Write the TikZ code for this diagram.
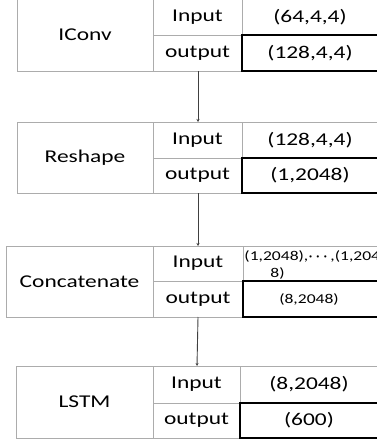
\documentclass[tikz,border=0pt]{standalone}
\usepackage{amsmath}
\usepackage{fontspec}
\setmainfont{Carlito}[FakeStretch=1.3]
\usepackage{tikz}
\usetikzlibrary{arrows.meta}

\tikzset{
  grid/.style={draw=gray!65, line width=0.9pt},
  outbox/.style={draw=black, line width=1.1pt},
  flow/.style={draw=black!75, line width=0.9pt, -{Stealth[length=3pt,width=3pt]}},
  lbl/.style={inner sep=0.75pt, font=\fontsize{18}{20}\selectfont},
  small/.style={inner sep=0.75pt, font=\fontsize{13.5}{15}\selectfont}
}

\begin{document}
\begin{tikzpicture}[x=1pt,y=1pt,yscale=-1,xscale=1]
\useasboundingbox (0,0) rectangle (376,444);
% IConv
\draw[grid] (17,-1) rectangle (153,71);
\draw[grid] (153,-1) -- (395,-1);
\draw[grid] (153,35) -- (242,35);
\draw[grid] (242,-1) -- (242,35);
\draw[grid] (153,71) -- (242,71);
\draw[outbox] (395,35) -- (242,35) -- (242,71) -- (395,71);
\node[lbl] (iconv) at (85,35) {IConv};
\node[lbl] (iconv-in) at (197.5,17) {Input};
\node[lbl] (iconv-out) at (197.5,53) {output};
\node[lbl] (iconv-inv) at (310,17) {(64,4,4)};
\node[lbl] (iconv-outv) at (310,53) {(128,4,4)};
% Reshape
\draw[grid] (17,122) rectangle (153,193);
\draw[grid] (153,122) -- (395,122);
\draw[grid] (153,158) -- (242,158);
\draw[grid] (242,122) -- (242,158);
\draw[grid] (153,193) -- (242,193);
\draw[outbox] (395,158) -- (242,158) -- (242,193) -- (395,193);
\node[lbl] (reshape) at (85,157.5) {Reshape};
\node[lbl] (reshape-in) at (197.5,140) {Input};
\node[lbl] (reshape-out) at (197.5,175.5) {output};
\node[lbl] (reshape-inv) at (310,140) {(128,4,4)};
\node[lbl] (reshape-outv) at (310,175.5) {(1,2048)};
% Concatenate
\draw[grid] (6,246) rectangle (153,317);
\draw[grid] (153,246) -- (395,246);
\draw[grid] (153,281) -- (243,281);
\draw[grid] (243,246) -- (243,281);
\draw[grid] (153,317) -- (243,317);
\draw[outbox] (395,281) -- (243,281) -- (243,317) -- (395,317);
\node[lbl] (concat) at (79.5,281.5) {Concatenate};
\node[lbl] (concat-in) at (198,263.5) {Input};
\node[lbl] (concat-out) at (198,299) {output};
\node[small, anchor=west] (concat-inv) at (243.5,256) {(1,2048),$\boldsymbol{\cdots}$,(1,204};
\node[small] (concat-inv2) at (277.5,273) {8)};
\node[small] (concat-outv) at (309,299) {(8,2048)};
% LSTM
\draw[grid] (16,366) rectangle (153,438);
\draw[grid] (153,366) -- (395,366);
\draw[grid] (153,403) -- (240,403);
\draw[grid] (240,366) -- (240,403);
\draw[grid] (153,438) -- (240,438);
\draw[outbox] (395,403) -- (240,403) -- (240,438) -- (395,438);
\node[lbl] (lstm) at (84.5,402) {LSTM};
\node[lbl] (lstm-in) at (196.5,384.5) {Input};
\node[lbl] (lstm-out) at (196.5,420.5) {output};
\node[lbl] (lstm-inv) at (309,384.5) {(8,2048)};
\node[lbl] (lstm-outv) at (309,420.5) {(600)};
% arrows
\coordinate (iconv-s) at (198,71);
\coordinate (reshape-n) at (198,122);
\coordinate (reshape-s) at (198,193);
\coordinate (concat-n) at (198,246);
\coordinate (concat-s) at (198,317);
\coordinate (lstm-n) at (197,366);
\draw[flow] (iconv-s) -- (reshape-n);
\draw[flow] (reshape-s) -- (concat-n);
\draw[flow] (concat-s) -- (lstm-n);
\end{tikzpicture}
\end{document}
